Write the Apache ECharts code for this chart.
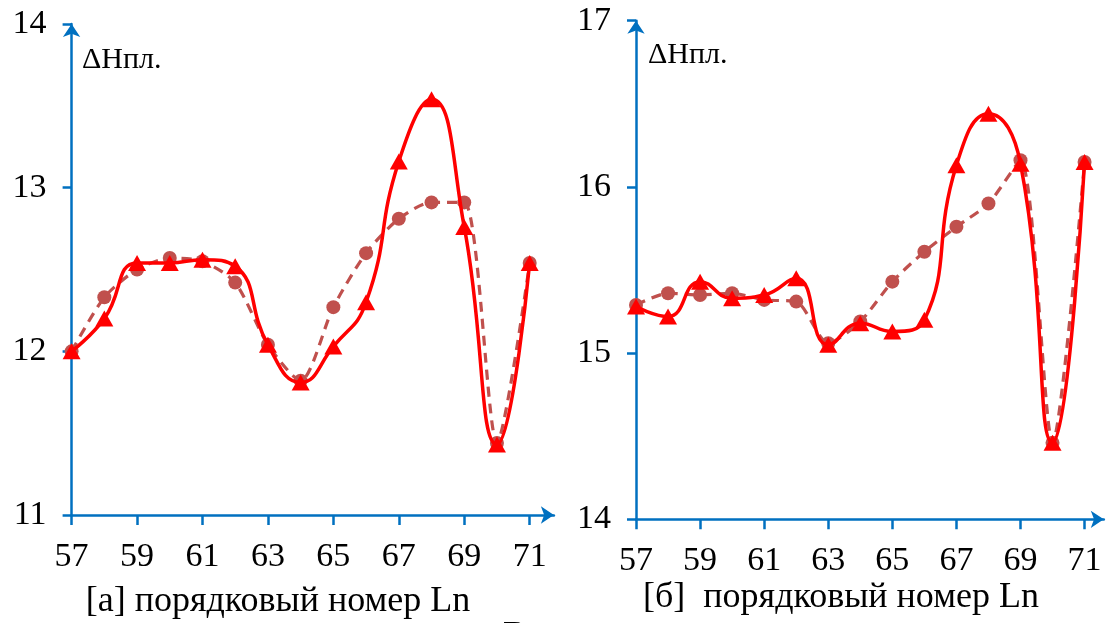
<!DOCTYPE html>
<html>
<head>
<meta charset="utf-8">
<script src="https://cdn.jsdelivr.net/npm/echarts@6/dist/echarts.min.js"></script>
<style>
  html, body { margin: 0; padding: 0; background: #fff; }
  #chart { width: 1112px; height: 623px; }
</style>
</head>
<body>
<div id="chart"></div>
<script>
// порядковый номер Ln
const ln = [57, 58, 59, 60, 61, 62, 63, 64, 65, 66, 67, 68, 69, 70, 71]
const xTicks = [57, 59, 61, 63, 65, 67, 69, 71]

// [а]
const aSolid = [12.00, 12.20, 12.54, 12.54, 12.56, 12.52, 12.04, 11.81, 12.03, 12.30, 13.16, 13.54, 12.76, 11.43, 12.54]
const aDashed = [12.00, 12.33, 12.50, 12.57, 12.55, 12.42, 12.04, 11.82, 12.27, 12.60, 12.81, 12.91, 12.91, 11.44, 12.54]
const aTicks = [11, 12, 13, 14]

// [б]
const bSolid = [15.28, 15.22, 15.43, 15.33, 15.35, 15.45, 15.05, 15.18, 15.13, 15.20, 16.13, 16.44, 16.14, 14.46, 16.15]
const bDashed = [15.29, 15.36, 15.35, 15.36, 15.32, 15.31, 15.06, 15.19, 15.43, 15.61, 15.76, 15.90, 16.16, 14.46, 16.15]
const bTicks = [14, 15, 16, 17]

const AXIS = '#0070C0'
const RED = '#FF0000'
const DARKRED = '#C0504D'
const FONT = '"Liberation Serif", "DejaVu Serif", serif'

const pairs = (ys) => ln.map((x, i) => [x, ys[i]])

const xAxisOf = (gridIndex, max) => ({
  type: 'value',
  gridIndex: gridIndex,
  min: 57,
  max: max,
  axisLine: {
    lineStyle: { color: AXIS, width: 2.5 },
    symbol: ['none', 'arrow'],
    symbolSize: [13, 13]
  },
  axisTick: {
    customValues: xTicks,
    length: 10,
    lineStyle: { color: AXIS, width: 2.5 }
  },
  axisLabel: {
    customValues: xTicks,
    color: '#000',
    fontFamily: FONT,
    fontSize: 34,
    margin: 25
  },
  splitLine: { show: false }
})

const yAxisOf = (gridIndex, ticks) => ({
  type: 'value',
  gridIndex: gridIndex,
  min: ticks[0],
  max: ticks[ticks.length - 1],
  interval: 1,
  axisLine: {
    show: true,
    lineStyle: { color: AXIS, width: 2.5 },
    symbol: ['none', 'arrow'],
    symbolSize: [13, 13]
  },
  axisTick: {
    show: true,
    length: 9,
    lineStyle: { color: AXIS, width: 2.5 }
  },
  axisLabel: {
    color: '#000',
    fontFamily: FONT,
    fontSize: 34,
    margin: 25
  },
  splitLine: { show: false }
})

const dashedSeries = (idx, ys) => ({
  type: 'line',
  xAxisIndex: idx,
  yAxisIndex: idx,
  data: pairs(ys),
  smooth: 0.25,
  symbol: 'circle',
  symbolSize: 14,
  itemStyle: { color: DARKRED },
  lineStyle: { color: DARKRED, width: 3.2, type: [10, 7] },
  z: 2
})

const solidSeries = (idx, ys) => ({
  type: 'line',
  xAxisIndex: idx,
  yAxisIndex: idx,
  data: pairs(ys),
  smooth: 0.5,
  symbol: 'triangle',
  symbolSize: [18, 16],
  itemStyle: { color: RED },
  lineStyle: { color: RED, width: 3.5 },
  z: 3
})

const textEl = (x, y, text, size, align) => ({
  type: 'text',
  x: x,
  y: y,
  style: {
    text: text,
    fontFamily: FONT,
    fontSize: size,
    fill: '#000',
    align: align || 'left'
  }
})

const chart = echarts.init(document.getElementById('chart'))

chart.setOption({
  backgroundColor: '#fff',
  animation: false,
  textStyle: { fontFamily: FONT },
  grid: [
    { left: 71.6, top: 24, width: 482.3, height: 491 },
    { left: 636, top: 20.7, width: 467.8, height: 498.6 }
  ],
  xAxis: [xAxisOf(0, 71.74), xAxisOf(1, 71.6)],
  yAxis: [yAxisOf(0, aTicks), yAxisOf(1, bTicks)],
  series: [
    dashedSeries(0, aDashed),
    solidSeries(0, aSolid),
    dashedSeries(1, bDashed),
    solidSeries(1, bSolid)
  ],
  graphic: [
    textEl(82, 45, 'ΔHпл.', 30),
    textEl(648, 40, 'ΔHпл.', 30),
    textEl(278, 584, '[а] порядковый номер Ln', 36, 'center'),
    textEl(841, 580, '[б]  порядковый номер Ln', 36, 'center'),
    textEl(503, 619, 'В', 36)
  ]
})
</script>
</body>
</html>
